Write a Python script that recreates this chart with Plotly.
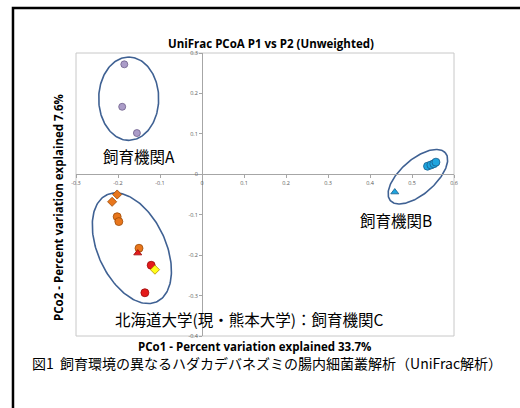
import numpy as np
import plotly.graph_objects as go

# PCoA coordinates (PCo1, PCo2) per sample group
a_x = [-0.185, -0.190, -0.155]
a_y = [0.272, 0.167, 0.102]

b_circ_x = [0.537, 0.545, 0.552, 0.557]
b_circ_y = [0.020, 0.023, 0.026, 0.030]
b_tri_x = [0.459]
b_tri_y = [-0.044]

c_or_dia_x = [-0.202, -0.214]
c_or_dia_y = [-0.050, -0.068]
c_or_circ_x = [-0.202, -0.198, -0.150]
c_or_circ_y = [-0.105, -0.117, -0.183]
c_red_tri_x = [-0.153]
c_red_tri_y = [-0.195]
c_red_circ_x = [-0.121, -0.136]
c_red_circ_y = [-0.225, -0.293]
c_yel_dia_x = [-0.112]
c_yel_dia_y = [-0.236]

# group outlines: centre x, centre y, semi-axis a, semi-axis b, angle (deg)
ellipse_a = (-0.1745, 0.187, 0.103, 0.0714, 90.0)
ellipse_b = (0.514, -0.006, 0.0883, 0.0422, 42.75)
ellipse_c = (-0.167, -0.183, 0.145, 0.081, 113.6)

x_ticks = [-0.3, -0.2, -0.1, 0, 0.1, 0.2, 0.3, 0.4, 0.5, 0.6]
y_ticks = [-0.4, -0.3, -0.2, -0.1, 0, 0.1, 0.2, 0.3]

title = "UniFrac PCoA P1 vs P2 (Unweighted)"
x_title = "PCo1 - Percent variation explained 33.7%"
y_title = "PCo2 - Percent variation explained 7.6%"
caption = "図1  飼育環境の異なるハダカデバネズミの腸内細菌叢解析（UniFrac解析）"
label_a = "飼育機関A"
label_b = "飼育機関B"
label_c = "北海道大学(現・熊本大学)：飼育機関C"

JP = "Noto Sans CJK JP"
LAT = "Open Sans"

fig = go.Figure()


def ellipse(cx, cy, a, b, ang):
    t = np.linspace(0, 2 * np.pi, 181)
    phi = np.deg2rad(ang)
    ex = cx + a * np.cos(t) * np.cos(phi) - b * np.sin(t) * np.sin(phi)
    ey = cy + a * np.cos(t) * np.sin(phi) + b * np.sin(t) * np.cos(phi)
    return ex, ey


for e in (ellipse_a, ellipse_b, ellipse_c):
    ex, ey = ellipse(*e)
    fig.add_trace(go.Scatter(x=ex, y=ey, mode="lines",
                             line=dict(color="#3f6193", width=1.6),
                             hoverinfo="skip"))


def pts(x, y, symbol, size, fill, edge):
    fig.add_trace(go.Scatter(
        x=x, y=y, mode="markers",
        marker=dict(symbol=symbol, size=size, color=fill,
                    line=dict(color=edge, width=0.8))))


pts(a_x, a_y, "circle", 7, "#ab9cc8", "#6e5f8c")
pts(b_circ_x, b_circ_y, "circle", 8, "#1ea5df", "#185d8a")
pts(b_tri_x, b_tri_y, "triangle-up", 7, "#1ea5df", "#185d8a")
pts(c_or_dia_x, c_or_dia_y, "diamond", 7, "#e8761c", "#9c4a06")
pts(c_or_circ_x, c_or_circ_y, "circle", 8, "#e8761c", "#9c4a06")
pts(c_red_tri_x, c_red_tri_y, "triangle-up", 7, "#e41b1b", "#9a0a0a")
pts(c_red_circ_x, c_red_circ_y, "circle", 8, "#e41b1b", "#9a0a0a")
pts(c_yel_dia_x, c_yel_dia_y, "diamond", 7, "#ffff1a", "#b58a00")

x_rng = [-0.3, 0.6]
y_rng = [-0.4, 0.3]

fig.update_layout(
    width=520, height=408,
    margin=dict(l=76, r=66, t=53, b=72),
    paper_bgcolor="white", plot_bgcolor="white",
    showlegend=False,
    xaxis=dict(range=x_rng, tickvals=x_ticks, ticktext=[f"{v:g}" for v in x_ticks],
               showgrid=False, zeroline=False, showline=True, linecolor="#a6a6a6",
               linewidth=1, anchor="free",
               position=(0 - y_rng[0]) / (y_rng[1] - y_rng[0]),
               ticks="outside", ticklen=3, tickcolor="#a6a6a6",
               tickfont=dict(family=LAT, size=5.5, color="#595959")),
    yaxis=dict(range=y_rng, tickvals=y_ticks, ticktext=[f"{v:g}" for v in y_ticks],
               showgrid=False, zeroline=False, showline=True, linecolor="#a6a6a6",
               linewidth=1, anchor="free",
               position=(0 - x_rng[0]) / (x_rng[1] - x_rng[0]),
               ticks="outside", ticklen=3, tickcolor="#a6a6a6",
               tickfont=dict(family=LAT, size=5.5, color="#595959")),
)

# plot-area border
fig.add_shape(type="rect", xref="paper", yref="paper", x0=0, y0=0, x1=1, y1=1,
              line=dict(color="#c8c8c8", width=1), layer="below")
# black frame (top and left edges)
fig.add_shape(type="path", xref="paper", yref="paper",
              path="M 1.3,1.159 L -0.1667,1.159 L -0.1667,-0.4",
              line=dict(color="black", width=2.5))


def note(text, x, y, size, family, angle=0):
    fig.add_annotation(text=text, xref="paper", yref="paper", x=x, y=y,
                       xanchor="center", yanchor="middle", showarrow=False,
                       textangle=angle,
                       font=dict(family=family, size=size, color="black"))


note(f"<b>{title}</b>", 0.517, 1.033, 11.5, LAT)
note(f"<b>{x_title}</b>", 0.472, -0.038, 11.5, LAT)
note(f"<b>{y_title}</b>", -0.045, 0.456, 11.5, LAT, -90)
note(caption, 0.5066, -0.0954, 14, JP)

for txt, lx, ly in ((label_a, -0.1495, 0.0446), (label_b, 0.463, -0.112),
                    (label_c, 0.112, -0.357)):
    fig.add_annotation(text=txt, x=lx, y=ly, xref="x", yref="y", showarrow=False,
                       xanchor="center", yanchor="middle",
                       font=dict(family=JP, size=15.5, color="black"))

fig.write_html("out.html")
